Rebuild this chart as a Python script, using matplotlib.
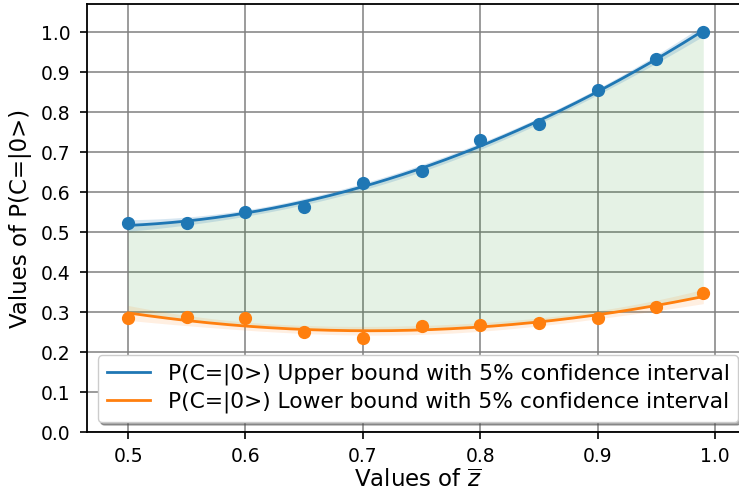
import numpy as np
import matplotlib
matplotlib.use("Agg")
import matplotlib.pyplot as plt

# measured probabilities for each value of z-bar
z_vals = [0.5, 0.55, 0.6, 0.65, 0.7, 0.75, 0.8, 0.85, 0.9, 0.95, 0.99]
p_upper = [0.523, 0.522, 0.549, 0.562, 0.623, 0.653, 0.730, 0.770, 0.855, 0.932, 1.001]
p_lower = [0.285, 0.287, 0.285, 0.250, 0.236, 0.264, 0.268, 0.272, 0.286, 0.312, 0.347]

upper_label = "P(C=|0>) Upper bound with 5% confidence interval"
lower_label = "P(C=|0>) Lower bound with 5% confidence interval"

BLUE = "#1f77b4"
ORANGE = "#ff7f0e"


def quad_fit(x, y, grid):
    # 2nd order fit plus 95% band on the fitted curve
    coef, cov = np.polyfit(x, y, 2, cov=True)
    X = np.vstack([grid ** 2, grid, np.ones_like(grid)]).T
    fit = X @ coef
    se = np.sqrt(np.einsum("ij,jk,ik->i", X, cov, X))
    return fit, fit - 1.96 * se, fit + 1.96 * se


z = np.array(z_vals)
grid = np.linspace(z.min(), z.max(), 200)
up_fit, up_lo, up_hi = quad_fit(z, np.array(p_upper), grid)
lo_fit, lo_lo, lo_hi = quad_fit(z, np.array(p_lower), grid)

fig = plt.figure(figsize=(7.39, 4.94), dpi=100)
ax = fig.add_axes([87 / 739, 1 - 432 / 494, 661 / 739, 428 / 494])

ax.fill_between(grid, lo_fit, up_fit, color="green", alpha=0.1, lw=0)

ax.fill_between(grid, up_lo, up_hi, color=BLUE, alpha=0.18, lw=0)
ax.fill_between(grid, lo_lo, lo_hi, color=ORANGE, alpha=0.12, lw=0)
ax.plot(grid, up_fit, color=BLUE, lw=2, label=upper_label)
ax.plot(grid, lo_fit, color=ORANGE, lw=2, label=lower_label)
ax.plot(z, p_upper, "o", color=BLUE, ms=8.5)
ax.plot(z, p_lower, "o", color=ORANGE, ms=8.5)

ax.set_xlim(0.465, 1.0281)
ax.set_ylim(0.0, 1.07)
ax.set_xticks(np.arange(0.5, 1.01, 0.1))
ax.set_yticks(np.arange(0.0, 1.01, 0.1))
ax.tick_params(labelsize=13.5, length=5, width=1.2)
ax.tick_params(axis="y", pad=7)
ax.tick_params(axis="x", pad=6)
ax.grid(True, color="grey", lw=1.1)
ax.set_axisbelow(True)
for sp in ax.spines.values():
    sp.set_linewidth(1.3)

ax.set_xlabel(r"Values of $\overline{z}$", fontsize=16.5, labelpad=2)
ax.set_ylabel("Values of P(C=|0>)", fontsize=16.5, labelpad=6)

ax.legend(loc="lower right", fontsize=15.7, shadow=True, handlelength=2.0,
          borderaxespad=0.45, labelspacing=0.3, framealpha=1)

fig.savefig("out.png", dpi=100)
